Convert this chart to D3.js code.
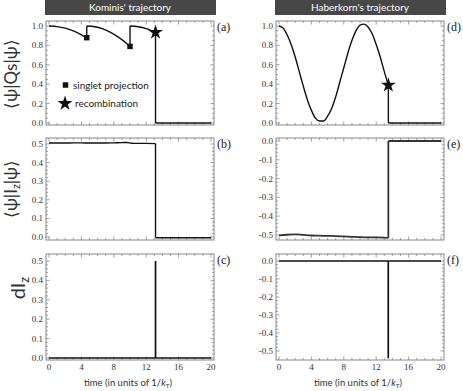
<!DOCTYPE html>
<html>
<head>
<meta charset="utf-8">
<script src="https://cdn.jsdelivr.net/npm/d3@7"></script>
<style>
  body { margin: 0; background: #fff; }
  svg { display: block; }
</style>
</head>
<body>
<svg width="463" height="391"></svg>
<script>
// ---- data ----
const xTicks = [0, 4, 8, 12, 16, 20];
const yTicksQs = [0, 0.2, 0.4, 0.6, 0.8, 1.0];
const yTicksPos = [0, 0.1, 0.2, 0.3, 0.4, 0.5];
const yTicksNeg = [-0.5, -0.4, -0.3, -0.2, -0.1, 0];

// (a) Kominis, <psi|Qs|psi>
const komT  = [0, 1, 2, 3, 4, 4.66, 4.66, 5.66, 6.66, 7.66, 8.66, 9.66, 10.0, 10.0, 11, 12, 13.15, 13.15, 20];
const komQs = [1.0, 0.994, 0.978, 0.95, 0.91, 0.88, 1.0, 0.993, 0.97, 0.933, 0.88, 0.815, 0.79, 1.0, 0.993, 0.974, 0.935, 0, 0];
const komProjT = [4.66, 10.0];
const komProjV = [0.88, 0.79];
const komRecT = [13.15];
const komRecV = [0.935];

// (b) Kominis, <psi|Iz|psi>
const komIzT = [0, 1, 2, 3, 4, 5, 6, 7, 8, 9, 9.6, 10.2, 11, 12, 13.15, 13.15, 20];
const komIz  = [0.505, 0.505, 0.505, 0.506, 0.506, 0.505, 0.505, 0.505, 0.506, 0.507, 0.508, 0.504, 0.503, 0.503, 0.502, -0.004, -0.004];

// (c) Kominis, dIz
const komDT  = [0, 13.15, 13.15, 13.15, 20];
const komDIz = [0, 0, 0.5, 0, 0];

// (d) Haberkorn, <psi|Qs|psi>
const habT  = [0, 0.5, 1, 1.5, 2, 2.5, 3, 3.5, 4, 4.5, 5, 5.5, 6, 6.5, 7, 7.5, 8, 8.5, 9, 9.5, 10, 10.5, 11, 11.5, 12, 12.5, 13, 13.5, 13.5, 20];
const habQs = [1.0, 0.98, 0.91, 0.81, 0.68, 0.53, 0.38, 0.24, 0.13, 0.05, 0.02, 0.02, 0.07, 0.15, 0.27, 0.42, 0.57, 0.72, 0.85, 0.95, 1.01, 1.02, 0.99, 0.92, 0.81, 0.68, 0.53, 0.39, 0, 0];
const habRecT = [13.5];
const habRecV = [0.39];

// (e) Haberkorn, <psi|Iz|psi>
const habIzT = [0, 1, 2, 3, 4, 5, 6, 7, 8, 9, 10, 11, 12, 13, 13.5, 13.5, 20];
const habIz  = [-0.502, -0.499, -0.497, -0.500, -0.503, -0.504, -0.505, -0.506, -0.508, -0.510, -0.512, -0.513, -0.513, -0.514, -0.516, 0, 0];

// (f) Haberkorn, dIz
const habDT  = [0, 13.5, 13.5, 13.5, 20];
const habDIz = [0, 0, -0.54, 0, 0];

// ---- layout ----
const svg = d3.select("svg");
const serif = "'Liberation Serif', 'DejaVu Serif', serif";
const sans = "Lato, 'Open Sans', sans-serif";
const fmt = d3.formatLocale({decimal: ".", thousands: ",", grouping: [3], currency: ["", ""], minus: "-"}).format(".1f");

const cols = [{x: 46, w: 168, title: "Kominis' trajectory"}, {x: 276, w: 168, title: "Haberkorn's trajectory"}];
const rows = [{y: 21, h: 104}, {y: 138, h: 102}, {y: 254, h: 106}];

// title bars
cols.forEach(c => {
  svg.append("rect").attr("x", c.x - 1).attr("y", 0).attr("width", c.w + 3).attr("height", 15).attr("fill", "#474747");
  svg.append("text").attr("x", c.x + c.w / 2).attr("y", 11).attr("text-anchor", "middle")
    .attr("fill", "#fff").attr("font-family", sans).attr("font-size", 10).text(c.title);
});

const panels = [
  {col: 0, row: 0, lab: "(a)", yd: [-0.021, 1.052], yt: yTicksQs, minor: 0.05, t: komT, v: komQs, w: 1.4, c: "#111"},
  {col: 0, row: 1, lab: "(b)", yd: [-0.016, 0.532], yt: yTicksPos, minor: 0.02, t: komIzT, v: komIz, w: 1.4, c: "#111"},
  {col: 0, row: 2, lab: "(c)", yd: [-0.0103, 0.536], yt: yTicksPos, minor: 0.02, t: komDT, v: komDIz, w: 1.4, c: "#111"},
  {col: 1, row: 0, lab: "(d)", yd: [-0.021, 1.052], yt: yTicksQs, minor: 0.05, t: habT, v: habQs, w: 1.4, c: "#111"},
  {col: 1, row: 1, lab: "(e)", yd: [-0.527, 0.016], yt: yTicksNeg, minor: 0.02, t: habIzT, v: habIz, w: 1.8, c: "#333"},
  {col: 1, row: 2, lab: "(f)", yd: [-0.55, 0.039], yt: yTicksNeg, minor: 0.02, t: habDT, v: habDIz, w: 1.4, c: "#111"}
];

const scales = {};

panels.forEach(p => {
  const c = cols[p.col], r = rows[p.row];
  const x = d3.scaleLinear().domain([0, 20]).range([c.x + 3, c.x + c.w - 3]);
  const y = d3.scaleLinear().domain(p.yd).range([r.y + r.h, r.y]);
  scales[p.lab] = {x, y};
  const g = svg.append("g");

  // ticks on all four sides, pointing inward
  const tk = g.append("g").attr("stroke", "#888").attr("stroke-width", 0.8);
  const xMinor = d3.range(0, 20.001, 1);
  xMinor.forEach(t => {
    const len = xTicks.includes(t) ? 3.5 : 2;
    tk.append("line").attr("x1", x(t)).attr("x2", x(t)).attr("y1", r.y + r.h).attr("y2", r.y + r.h - len);
    tk.append("line").attr("x1", x(t)).attr("x2", x(t)).attr("y1", r.y).attr("y2", r.y + len);
  });
  const lo = Math.min(...p.yt), hi = Math.max(...p.yt);
  d3.range(Math.round(lo / p.minor), Math.round(hi / p.minor) + 1).forEach(k => {
    const val = k * p.minor;
    const major = p.yt.some(m => Math.abs(m - val) < 1e-6);
    const len = major ? 3.5 : 2;
    tk.append("line").attr("x1", c.x).attr("x2", c.x + len).attr("y1", y(val)).attr("y2", y(val));
    tk.append("line").attr("x1", c.x + c.w).attr("x2", c.x + c.w - len).attr("y1", y(val)).attr("y2", y(val));
  });

  g.append("rect").attr("x", c.x).attr("y", r.y).attr("width", c.w).attr("height", r.h)
    .attr("fill", "none").attr("stroke", "#888").attr("stroke-width", 1);

  // y tick labels
  g.selectAll(".yl").data(p.yt).join("text")
    .attr("x", c.x - 3).attr("y", d => y(d) + 3).attr("text-anchor", "end")
    .attr("font-family", serif).attr("font-size", 9).attr("fill", "#333")
    .text(d => fmt(d));

  // x tick labels only on bottom row
  if (p.row === 2) {
    g.selectAll(".xl").data(xTicks).join("text")
      .attr("x", d => x(d)).attr("y", r.y + r.h + 10).attr("text-anchor", "middle")
      .attr("font-family", serif).attr("font-size", 9).attr("fill", "#333")
      .text(d => d);
    const xl = g.append("text").attr("x", (x(0) + x(20)) / 2 - 2).attr("y", 386).attr("text-anchor", "middle")
      .attr("font-family", sans).attr("font-size", 9.5).attr("fill", "#333");
    xl.append("tspan").text("time (in units of 1/");
    xl.append("tspan").attr("font-style", "italic").text("k");
    xl.append("tspan").attr("font-size", 6.5).attr("dy", 2).text("T");
    xl.append("tspan").attr("dy", -2).text(")");
  }

  // panel label
  g.append("text").attr("x", c.x + c.w + 3).attr("y", r.y + 10)
    .attr("font-family", serif).attr("font-size", 12).attr("fill", "#222").text(p.lab);

  // series: split into smooth runs at jumps
  const pts = p.t.map((t, i) => [t, p.v[i]]);
  const runs = [[pts[0]]];
  for (let i = 1; i < pts.length; i++) {
    if (pts[i][0] === pts[i - 1][0]) {
      g.append("line").attr("x1", x(pts[i - 1][0])).attr("x2", x(pts[i][0]))
        .attr("y1", y(pts[i - 1][1])).attr("y2", y(pts[i][1]))
        .attr("stroke", p.c).attr("stroke-width", p.w);
      runs.push([pts[i]]);
    } else {
      runs[runs.length - 1].push(pts[i]);
    }
  }
  const line = d3.line().x(d => x(d[0])).y(d => y(d[1])).curve(d3.curveMonotoneX);
  runs.filter(rn => rn.length > 1).forEach(rn => {
    g.append("path").attr("d", line(rn)).attr("fill", "none")
      .attr("stroke", p.c).attr("stroke-width", p.w).attr("stroke-linejoin", "round");
  });
});

// markers
const sq = d3.symbol().type(d3.symbolSquare).size(30);
const star = d3.symbol().type(d3.symbolStar).size(70);
const sa = scales["(a)"], sd = scales["(d)"];
komProjT.forEach((t, i) => {
  svg.append("path").attr("d", sq()).attr("transform", `translate(${sa.x(t)},${sa.y(komProjV[i])})`).attr("fill", "#111");
});
komRecT.forEach((t, i) => {
  svg.append("path").attr("d", star()).attr("transform", `translate(${sa.x(t)},${sa.y(komRecV[i])})`).attr("fill", "#111");
});
habRecT.forEach((t, i) => {
  svg.append("path").attr("d", star()).attr("transform", `translate(${sd.x(t)},${sd.y(habRecV[i])})`).attr("fill", "#111");
});

// legend in (a)
svg.append("path").attr("d", sq()).attr("transform", "translate(65.5,85)").attr("fill", "#111");
svg.append("text").attr("x", 73).attr("y", 88.5).attr("font-family", sans).attr("font-size", 10).attr("fill", "#222").text("singlet projection");
svg.append("path").attr("d", star()).attr("transform", "translate(65,103.5)").attr("fill", "#111");
svg.append("text").attr("x", 75).attr("y", 107).attr("font-family", sans).attr("font-size", 10).attr("fill", "#222").text("recombination");

// y axis titles
const yt1 = svg.append("text").attr("transform", "translate(17,74) rotate(-90)").attr("text-anchor", "middle")
  .attr("font-family", sans).attr("font-size", 17).attr("fill", "#333");
yt1.text("\u27E8\u03C8|Qs|\u03C8\u27E9");

const yt2 = svg.append("text").attr("transform", "translate(17,189) rotate(-90)").attr("text-anchor", "middle")
  .attr("font-family", sans).attr("font-size", 17).attr("fill", "#333");
yt2.append("tspan").text("\u27E8\u03C8|I");
yt2.append("tspan").attr("font-size", 11).attr("dy", 3).text("z");
yt2.append("tspan").attr("dy", -3).text("|\u03C8\u27E9");

const yt3 = svg.append("text").attr("transform", "translate(25,288) rotate(-90)").attr("text-anchor", "middle")
  .attr("font-family", sans).attr("font-size", 20).attr("fill", "#333");
yt3.append("tspan").text("dI");
yt3.append("tspan").attr("font-size", 13).attr("dy", 4).text("z");
</script>
</body>
</html>
